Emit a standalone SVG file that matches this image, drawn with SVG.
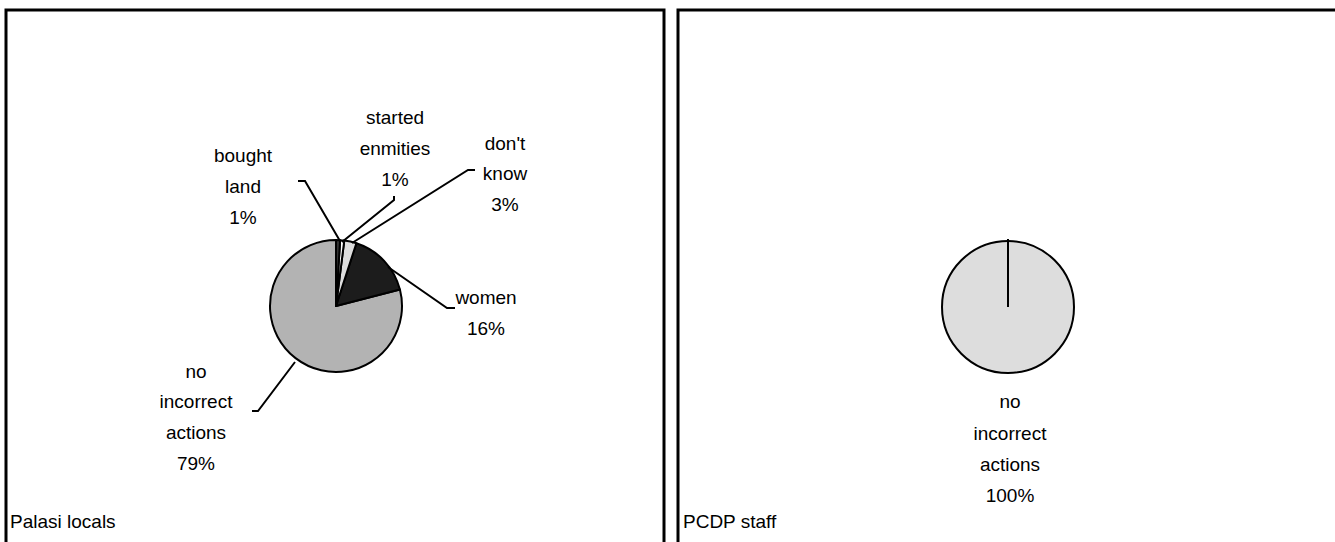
<svg xmlns="http://www.w3.org/2000/svg" width="1335" height="542" viewBox="0 0 1335 542">
<style>
text{font-family:"Liberation Sans",Arial,sans-serif;font-size:19px;fill:#000}
.c{text-anchor:middle}
.frame{fill:#fff;stroke:#000;stroke-width:3}
.sl{stroke:#000;stroke-width:2;stroke-linejoin:round}
.ld{fill:none;stroke:#000;stroke-width:2}
</style>
<rect width="1335" height="542" fill="#fff"/>
<rect class="frame" x="6" y="10" width="658" height="540"/>
<rect class="frame" x="678" y="10" width="670" height="540"/>
<g id="pie-palasi">
<path class="sl" fill="#b3b3b3" d="M336,306 L399.93,289.59 A66,66 0 1 1 336,240 Z"/>
<path class="sl" fill="#1c1c1c" d="M336,306 L356.39,243.23 A66,66 0 0 1 399.93,289.59 Z"/>
<path class="sl" fill="#dddddd" d="M336,306 L344.27,240.52 A66,66 0 0 1 356.39,243.23 Z"/>
<path class="sl" fill="#ffffff" d="M336,306 L340.14,240.13 A66,66 0 0 1 344.27,240.52 Z"/>
<path class="sl" fill="#333333" d="M336,306 L336,240 A66,66 0 0 1 340.14,240.13 Z"/>
</g>
<g id="pie-pcdp">
<circle class="sl" fill="#dddddd" cx="1008" cy="307" r="66"/>
</g>
<g id="connectors">
<polyline class="ld" points="298,181 305,181 340,241"/>
<polyline class="ld" points="394,196 394,200 342,242"/>
<polyline class="ld" points="475,170 468,170 352,243"/>
<polyline class="ld" points="388,267 447,308 455,308"/>
<polyline class="ld" points="295,362 258,411 252,411"/>
<line class="ld" x1="1008" y1="307" x2="1008" y2="239"/>
</g>
<g id="label-bought-land">
<text class="c" x="243" y="162">bought</text>
<text class="c" x="243" y="193">land</text>
<text class="c" x="243" y="224">1%</text>
</g>
<g id="label-started-enmities">
<text class="c" x="395" y="124">started</text>
<text class="c" x="395" y="155">enmities</text>
<text class="c" x="395" y="186">1%</text>
</g>
<g id="label-dont-know">
<text class="c" x="505" y="150">don't</text>
<text class="c" x="505" y="180">know</text>
<text class="c" x="505" y="211">3%</text>
</g>
<g id="label-women">
<text class="c" x="486" y="304">women</text>
<text class="c" x="486" y="335">16%</text>
</g>
<g id="label-no-incorrect">
<text class="c" x="196" y="378">no</text>
<text class="c" x="196" y="408">incorrect</text>
<text class="c" x="196" y="439">actions</text>
<text class="c" x="196" y="470">79%</text>
</g>
<g id="title-palasi"><text x="10" y="528">Palasi locals</text></g>
<g id="label-pcdp-no-incorrect">
<text class="c" x="1010" y="408">no</text>
<text class="c" x="1010" y="440">incorrect</text>
<text class="c" x="1010" y="471">actions</text>
<text class="c" x="1010" y="502">100%</text>
</g>
<g id="title-pcdp"><text x="683" y="528">PCDP staff</text></g>
</svg>
